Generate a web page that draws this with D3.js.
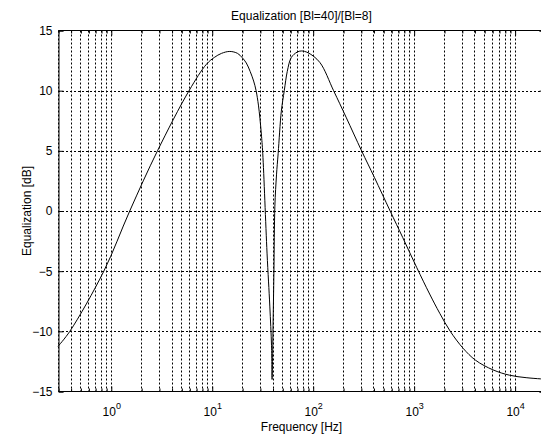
<!DOCTYPE html>
<html>
<head>
<meta charset="utf-8">
<script src="https://cdn.jsdelivr.net/npm/d3@7"></script>
<style>
  body { margin: 0; background: #fff; }
  svg { display: block; font-family: "Liberation Sans", Arial, sans-serif; }
</style>
</head>
<body>
<svg id="chart" width="541" height="436"></svg>
<script>
// values
const freqHz = [0.3, 0.393, 0.853, 1.54, 2.9, 5.96, 8.87, 10.6, 12.5, 15.1, 18, 20, 22, 24, 26,
  27.5, 29, 30, 31, 32, 35.3, 37.6, 39.1, 39.6, 40.0, 40.5, 41.3, 42.2, 43.8, 45.5, 48.9, 52.3, 56,
  61.4, 70, 77.2, 90, 117.6, 161, 214, 305, 408, 585, 779, 1073, 1440, 1813, 2305, 3083, 4100,
  6100, 8950, 13000, 18100, 20000];
const eqDb = [-11.25, -10, -5, 0, 5, 10, 12.2, 12.76, 13.1, 13.26, 13.1, 12.75, 12.3, 11.6, 10.8,
  10, 8.8, 7.7, 6.4, 4.8, -3.5, -7.9, -11.2, -14, -12.5, -9.5, -5, 0.4, 3, 4.8, 8.3, 10, 11.6,
  12.76, 13.2, 13.3, 13.15, 12.35, 10, 7.8, 5, 2.8, 0, -2.2, -4.7, -6.9, -8.5, -10, -11.4, -12.4,
  -13.2, -13.65, -13.85, -13.95, -13.97];
const yTicks = [-15, -10, -5, 0, 5, 10, 15];
const decadeTicks = [1, 10, 100, 1000, 10000];
const decadeExp = ["0", "1", "2", "3", "4"];

const svg = d3.select("#chart");
const mLeft = 58, mRight = 545, mTop = 30.5, mBottom = 391.5;

const x = d3.scaleLog().domain([0.3, 20000]).range([mLeft, mRight]);
const y = d3.scaleLinear().domain([-15, 15]).range([mBottom, mTop]);
const px = v => Math.round(x(v)) + 0.5;
const py = v => Math.round(y(v)) + 0.5;

// every 1..9 multiple per decade inside the domain
const minorTicks = [];
for (let e = -1; e <= 4; e++) {
  for (let m = 1; m <= 9; m++) {
    const v = m * Math.pow(10, e);
    if (v > 0.3 && v < 20000) minorTicks.push(v);
  }
}

// grid
const grid = svg.append("g")
  .attr("stroke", "#000")
  .attr("stroke-width", 1)
  .attr("stroke-dasharray", "2,2");
grid.selectAll("line.v")
  .data(minorTicks)
  .enter().append("line")
  .attr("class", "v")
  .attr("x1", px).attr("x2", px)
  .attr("y1", mTop).attr("y2", mBottom);
grid.selectAll("line.h")
  .data(yTicks.slice(1, -1))
  .enter().append("line")
  .attr("class", "h")
  .attr("x1", mLeft).attr("x2", mRight)
  .attr("y1", py).attr("y2", py);

// curve
const line = d3.line()
  .x(d => x(d[0]))
  .y(d => y(d[1]))
  .curve(d3.curveCatmullRom.alpha(0.5));
svg.append("path")
  .datum(d3.zip(freqHz, eqDb))
  .attr("fill", "none")
  .attr("stroke", "#000")
  .attr("stroke-width", 1)
  .attr("d", line);

// axes (inward ticks, box)
const xMinor = minorTicks.filter(v => !decadeTicks.includes(v));
function xAxisAt(gen, yPos, vals, size) {
  svg.append("g")
    .attr("transform", `translate(0.5,${yPos})`)
    .call(gen(x).tickValues(vals).tickSize(-size).tickFormat(""))
    .call(g => g.select(".domain").attr("d", `M${mLeft},0H${mRight}`));
}
xAxisAt(d3.axisBottom, mBottom, decadeTicks, 5);
xAxisAt(d3.axisBottom, mBottom, xMinor, 3);
xAxisAt(d3.axisTop, mTop, decadeTicks, 5);
xAxisAt(d3.axisTop, mTop, xMinor, 3);

svg.append("g")
  .attr("transform", `translate(${mLeft + 0.5},0)`)
  .call(d3.axisLeft(y).tickValues(yTicks).tickSize(-5).tickPadding(6))
  .call(g => g.selectAll("text").attr("font-size", 12).attr("font-family", null).attr("fill", "#000"));
svg.append("g")
  .attr("transform", `translate(${mRight - 0.5},0)`)
  .call(d3.axisRight(y).tickValues(yTicks).tickSize(-5).tickFormat(""));

svg.selectAll(".domain, .tick line").attr("stroke", "#000");

// decade labels with superscript
const xl = svg.append("g").attr("font-size", 12).attr("text-anchor", "middle");
decadeTicks.forEach((v, i) => {
  const t = xl.append("text").attr("x", x(v) + 1).attr("y", 416);
  t.append("tspan").text("10");
  t.append("tspan").attr("dy", -7).attr("font-size", 9).text(decadeExp[i]);
});

// titles
svg.append("text")
  .attr("x", (mLeft + mRight) / 2).attr("y", 20)
  .attr("text-anchor", "middle").attr("font-size", 12)
  .text("Equalization [Bl=40]/[Bl=8]");
svg.append("text")
  .attr("x", (mLeft + mRight) / 2).attr("y", 431)
  .attr("text-anchor", "middle").attr("font-size", 12)
  .text("Frequency [Hz]");
svg.append("text")
  .attr("transform", `translate(31,${y(0)}) rotate(-90)`)
  .attr("text-anchor", "middle").attr("font-size", 12)
  .text("Equalization [dB]");
</script>
</body>
</html>
